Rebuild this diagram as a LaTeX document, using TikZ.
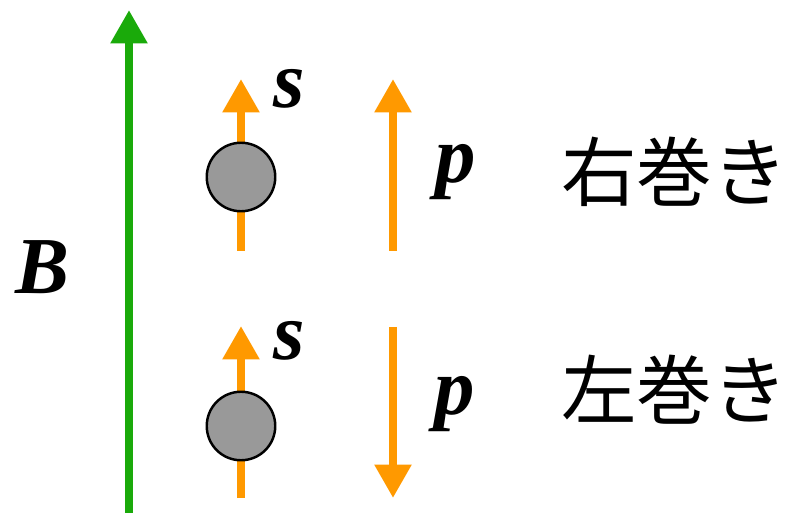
\documentclass[tikz,border=0pt]{standalone}
\usepackage{fontspec}
\setmainfont{Liberation Serif}
\newfontfamily\symfont{Liberation Serif}
\newfontfamily\jpfont{Noto Sans CJK JP}
\usetikzlibrary{arrows.meta, positioning}
\definecolor{fieldgreen}{HTML}{1AAA0A}
\definecolor{spinorange}{HTML}{FF9900}
\definecolor{ballgray}{HTML}{999999}

\begin{document}
\begin{tikzpicture}[
    x=0.02cm, y=-0.02cm,
    vec/.style={-{Triangle[length=19pt, width=20pt]}, line width=4.6pt},
    spin/.style={vec, draw=spinorange},
    ball/.style={circle, draw=black, line width=1.4pt, fill=ballgray, minimum size=39pt, inner sep=0pt},
    sym/.style={font=\symfont\fontsize{46}{48}\selectfont\bfseries\itshape, inner sep=0pt},
    hand/.style={font=\fontsize{43}{46}\selectfont\jpfont, inner sep=0pt, anchor=west}
  ]
    \useasboundingbox (0,0) rectangle (788,513);
    % magnetic field
    \coordinate (Bfoot) at (129,513);
    \coordinate (Btip) at (129,10);
    \draw[vec, draw=fieldgreen] (Bfoot) -- (Btip);
    \node[sym] (Blabel) at (42,267) {B};
    % right-handed
    \coordinate (s1foot) at (241,251);
    \coordinate (s1tip) at (241,79);
    \draw[spin] (s1foot) -- (s1tip);
    \node[ball] (ball1) at (241,177) {};
    \node[sym] (s1) at (289,89) {s};
    \coordinate (p1foot) at (393,251);
    \coordinate (p1tip) at (393,79);
    \draw[spin] (p1foot) -- (p1tip);
    \node[sym] (p1) at (456,172) {p};
    \node[hand] (right) at (561,172) {右巻き};
    % left-handed
    \coordinate (s2foot) at (241,498);
    \coordinate (s2tip) at (241,326);
    \draw[spin] (s2foot) -- (s2tip);
    \node[ball] (ball2) at (241,426) {};
    \node[sym] (s2) at (289,341) {s};
    \coordinate (p2top) at (393,327);
    \coordinate (p2tip) at (393,498);
    \draw[spin] (p2top) -- (p2tip);
    \node[sym] (p2) at (455,404) {p};
    \node[hand] (left) at (561,390) {左巻き};
  \end{tikzpicture}
\end{document}
